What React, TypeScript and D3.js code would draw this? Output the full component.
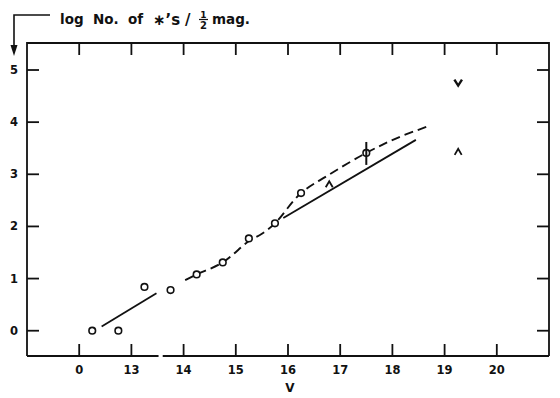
import React, { useEffect, useRef } from 'react';
import * as d3 from 'd3';

// axis ticks (the first V tick is lettered "0" on the original)
const xTicks = [12, 13, 14, 15, 16, 17, 18, 19, 20];
const xTickLabels = ['0', '13', '14', '15', '16', '17', '18', '19', '20'];
const yTicks = [0, 1, 2, 3, 4, 5];

// counted points (open circles)
const pointV = [12.25, 12.75, 13.25, 13.75, 14.25, 14.75, 15.25, 15.75, 16.25, 17.5];
const pointLogN = [0, 0, 0.84, 0.78, 1.08, 1.31, 1.77, 2.06, 2.64, 3.41];

// error bar on the faintest point
const errV = [17.5];
const errLow = [3.18];
const errHigh = [3.62];

// dashed curve through the counts
const curveV = [14.03, 14.25, 14.75, 15.25, 15.5, 15.75, 16.25, 16.75, 17.5, 18.1, 18.71];
const curveLogN = [0.97, 1.08, 1.31, 1.72, 1.86, 2.06, 2.64, 2.97, 3.41, 3.7, 3.93];

// solid straight lines
const brightLineV = [12.43, 13.48];
const brightLineLogN = [0.08, 0.72];
const faintLineV = [15.91, 18.45];
const faintLineLogN = [2.16, 3.66];

// limits
const lowerLimV = [16.79, 19.26];
const lowerLimLogN = [2.81, 3.43];
const upperLimV = [19.26];
const upperLimLogN = [4.76];

const WIDTH = 560;
const HEIGHT = 398;
const FONT = '"DejaVu Sans", sans-serif';

function StarCountChart() {
  const svgRef = useRef<SVGSVGElement>(null);

  useEffect(() => {
    d3.select(svgRef.current).selectAll('*').remove();
    const svg = d3.select(svgRef.current)
      .attr('width', WIDTH)
      .attr('height', HEIGHT);

    const x = d3.scaleLinear().domain([11, 21]).range([27, 549]);
    const y = d3.scaleLinear().domain([-0.485, 5.518]).range([356, 43]);
    const [x0, x1] = x.range();
    const [y0, y1] = y.range();
    const ink = '#111';

    // frame, bottom edge broken between 13 and 14
    const frame = svg.append('g').attr('stroke', ink).attr('stroke-width', 1.8).attr('fill', 'none');
    frame.append('path').attr('d', `M${x0},${y0} L${x0},${y1} L${x1},${y1} L${x1},${y0}`);
    frame.append('line').attr('x1', x0).attr('x2', x(13.52)).attr('y1', y0).attr('y2', y0);
    frame.append('line').attr('x1', x(13.6)).attr('x2', x1).attr('y1', y0).attr('y2', y0);

    // inward ticks on all four sides
    const tick = 12;
    xTicks.forEach(t => {
      frame.append('line').attr('x1', x(t)).attr('x2', x(t)).attr('y1', y0).attr('y2', y0 - tick);
      frame.append('line').attr('x1', x(t)).attr('x2', x(t)).attr('y1', y1).attr('y2', y1 + tick);
    });
    yTicks.forEach(t => {
      frame.append('line').attr('x1', x0).attr('x2', x0 + tick).attr('y1', y(t)).attr('y2', y(t));
      frame.append('line').attr('x1', x1).attr('x2', x1 - tick).attr('y1', y(t)).attr('y2', y(t));
    });

    // tick labels
    svg.append('g')
      .selectAll('text')
      .data(xTicks)
      .enter()
      .append('text')
      .attr('x', d => x(d))
      .attr('y', 374)
      .attr('text-anchor', 'middle')
      .attr('fill', ink)
      .style('font-family', FONT)
      .style('font-size', '11.5px')
      .style('font-weight', 'bold')
      .text((d, i) => xTickLabels[i]);

    svg.append('g')
      .selectAll('text')
      .data(yTicks)
      .enter()
      .append('text')
      .attr('x', 14)
      .attr('y', d => y(d) + 4)
      .attr('text-anchor', 'middle')
      .attr('fill', ink)
      .style('font-family', FONT)
      .style('font-size', '11.5px')
      .style('font-weight', 'bold')
      .text(d => d);

    svg.append('text')
      .attr('x', (x0 + x1) / 2 + 2)
      .attr('y', 392)
      .attr('text-anchor', 'middle')
      .attr('fill', ink)
      .style('font-family', FONT)
      .style('font-size', '12px')
      .style('font-weight', 'bold')
      .text('V');

    // y title with bent arrow
    svg.append('path')
      .attr('d', 'M50,15 L14,15 L14,46')
      .attr('stroke', ink)
      .attr('stroke-width', 1.6)
      .attr('fill', 'none');
    svg.append('path')
      .attr('d', 'M10.5,45 L17.5,45 L14,56 Z')
      .attr('fill', ink);

    const title = svg.append('g')
      .attr('fill', ink)
      .style('font-family', FONT)
      .style('font-size', '13.5px')
      .style('font-weight', 'bold');
    title.append('text').attr('x', 60).attr('y', 24).text('log');
    title.append('text').attr('x', 93).attr('y', 24).text('No.');
    title.append('text').attr('x', 128).attr('y', 24).text('of');
    title.append('text').attr('x', 153).attr('y', 25).style('font-size', '15px').text('\u2217\u2019s');
    title.append('text').attr('x', 185).attr('y', 25).style('font-size', '15px').text('/');
    title.append('text').attr('x', 203.5).attr('y', 17.5).attr('text-anchor', 'middle').style('font-size', '9px').text('1');
    title.append('line').attr('x1', 199).attr('x2', 208).attr('y1', 19.5).attr('y2', 19.5).attr('stroke', ink).attr('stroke-width', 1.2);
    title.append('text').attr('x', 203.5).attr('y', 29).attr('text-anchor', 'middle').style('font-size', '10px').text('2');
    title.append('text').attr('x', 212).attr('y', 24).text('mag.');

    // solid lines
    const lines = [
      { v: brightLineV, n: brightLineLogN },
      { v: faintLineV, n: faintLineLogN },
    ];
    lines.forEach(l => {
      svg.append('path')
        .datum(l.v.map((v, i) => [v, l.n[i]] as [number, number]))
        .attr('d', d3.line<[number, number]>().x(d => x(d[0])).y(d => y(d[1])))
        .attr('stroke', ink)
        .attr('stroke-width', 1.8)
        .attr('fill', 'none');
    });

    // dashed curve
    const curveData = curveV.map((v, i) => [v, curveLogN[i]] as [number, number]);
    svg.append('path')
      .datum(curveData)
      .attr('d', d3.line<[number, number]>()
        .x(d => x(d[0]))
        .y(d => y(d[1]))
        .curve(d3.curveCatmullRom.alpha(0.5)))
      .attr('stroke', ink)
      .attr('stroke-width', 1.9)
      .attr('stroke-dasharray', '9 5')
      .attr('fill', 'none');

    // points
    svg.selectAll('.pt')
      .data(pointV)
      .enter()
      .append('circle')
      .attr('class', 'pt')
      .attr('cx', d => x(d))
      .attr('cy', (d, i) => y(pointLogN[i]))
      .attr('r', 3.3)
      .attr('fill', '#fff')
      .attr('stroke', ink)
      .attr('stroke-width', 1.6);

    // error bar drawn over the circle
    errV.forEach((v, i) => {
      svg.append('line')
        .attr('x1', x(v)).attr('x2', x(v))
        .attr('y1', y(errLow[i])).attr('y2', y(errHigh[i]))
        .attr('stroke', ink)
        .attr('stroke-width', 2);
    });

    // lower limits (carets) and upper limit (vee)
    svg.selectAll('.lo')
      .data(lowerLimV)
      .enter()
      .append('path')
      .attr('class', 'lo')
      .attr('transform', (d, i) => `translate(${x(d)},${y(lowerLimLogN[i])})`)
      .attr('d', 'M-3.5,3 L0,-3 L3.5,3')
      .attr('stroke', ink)
      .attr('stroke-width', 1.8)
      .attr('fill', 'none');

    svg.selectAll('.hi')
      .data(upperLimV)
      .enter()
      .append('path')
      .attr('class', 'hi')
      .attr('transform', (d, i) => `translate(${x(d)},${y(upperLimLogN[i])})`)
      .attr('d', 'M-3.8,-3 L0,3 L3.8,-3')
      .attr('stroke', ink)
      .attr('stroke-width', 2.4)
      .attr('fill', 'none');
  }, []);

  return <svg ref={svgRef} style={{ position: 'absolute', left: 0, top: 0, background: '#fff' }}></svg>;
}

export default function App() {
  return <StarCountChart />;
}
